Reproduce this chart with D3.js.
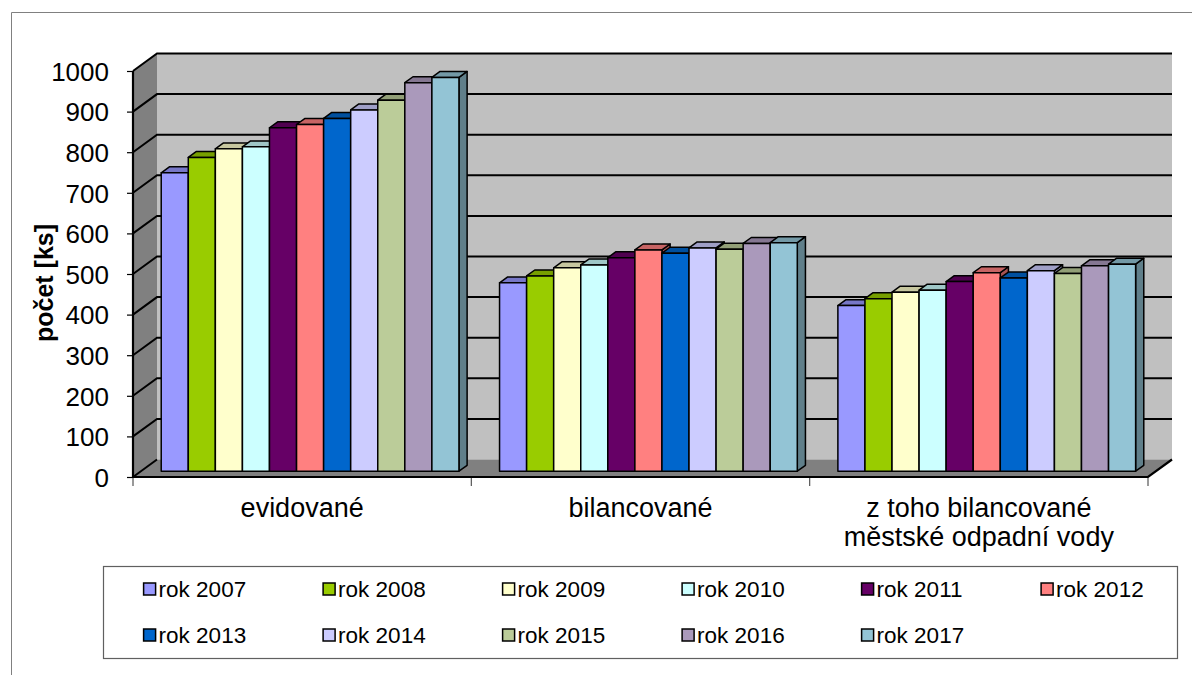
<!DOCTYPE html>
<html>
<head>
<meta charset="utf-8">
<script src="https://cdn.jsdelivr.net/npm/d3@7"></script>
<style>
  html, body { margin: 0; padding: 0; background: #fff; }
  svg text { font-family: "Liberation Sans", Arial, sans-serif; fill: #000; }
</style>
</head>
<body>
<svg id="chart" width="1192" height="675"></svg>
<script>
// Categories, series and axis ticks
const categories = ["evidované", "bilancované", "z toho bilancované\nměstské odpadní vody"];
const years = ["rok 2007", "rok 2008", "rok 2009", "rok 2010", "rok 2011", "rok 2012",
               "rok 2013", "rok 2014", "rok 2015", "rok 2016", "rok 2017"];
const colors = ["#9999FF", "#99CC00", "#FFFFCC", "#CCFFFF", "#660066", "#FF8080",
                "#0066CC", "#CCCCFF", "#BBCC99", "#AA99BB", "#93C4D5"];
const evidovane   = [735, 773, 794, 799, 846, 854, 869, 890, 914, 957, 970];
const bilancovane = [464, 481, 501, 508, 526, 545, 537, 550, 547, 561, 563];
const mestske     = [408, 425, 441, 446, 467, 489, 476, 494, 487, 506, 510];
const yTicks = [0, 100, 200, 300, 400, 500, 600, 700, 800, 900, 1000];
const yTitle = "počet [ks]";

const series = [evidovane, bilancovane, mestske];

const svg = d3.select("#chart");

// Plot geometry (front plane) and the oblique depth vector
const x0 = 133, x1 = 1148;
const D = [24, -17.5];
const barZ0 = 0.33, barZ1 = 0.67;   // bars sit in the middle of the depth

const y = d3.scaleLinear().domain([0, 1000]).range([477, 71]);
const xCat = d3.scaleBand().domain(d3.range(categories.length)).range([x0, x1]).paddingInner(0).paddingOuter(0);
const xYear = d3.scaleBand().domain(d3.range(years.length)).range([0, xCat.bandwidth()])
  .paddingInner(0).paddingOuter(0.75);

const P = (x, yy, z) => [x + z * D[0], yy + z * D[1]];
const poly = pts => pts.map(p => p.join(",")).join(" ");
const shade = (c, k) => { const r = d3.rgb(c); return d3.rgb(r.r * k, r.g * k, r.b * k).formatHex(); };

// Outer frame (top and left edges)
svg.append("path").attr("d", `M11.5,675 V12.5 H1192`).attr("fill", "none")
  .attr("stroke", "#808080").attr("stroke-width", 1);

const walls = svg.append("g");
// Back wall
const bl = P(x0, y(0), 1), tr = P(x1, y(1000), 1);
walls.append("rect").attr("x", bl[0]).attr("y", tr[1]).attr("width", tr[0] - bl[0])
  .attr("height", bl[1] - tr[1]).attr("fill", "#C0C0C0");
// Side wall
walls.append("polygon")
  .attr("points", poly([P(x0, y(0), 0), P(x0, y(1000), 0), P(x0, y(1000), 1), P(x0, y(0), 1)]))
  .attr("fill", "#808080");
// Floor
walls.append("polygon")
  .attr("points", poly([P(x0, y(0), 0), P(x1, y(0), 0), P(x1, y(0), 1), P(x0, y(0), 1)]))
  .attr("fill", "#808080");

// Gridlines on back wall and side wall
yTicks.forEach(v => {
  const a = P(x0, y(v), 0), b = P(x0, y(v), 1), c = P(x1, y(v), 1);
  walls.append("polyline").attr("points", poly(v === 0 ? [a, b] : [a, b, c]))
    .attr("fill", "none").attr("stroke", "#000").attr("stroke-width", 2);
});
// Front edges of floor and left axis
walls.append("polyline")
  .attr("points", poly([P(x0, y(1000), 0), P(x0, y(0), 0), P(x1, y(0), 0), P(x1, y(0), 1)]))
  .attr("fill", "none").attr("stroke", "#000").attr("stroke-width", 2.2);

// Bars
const bars = svg.append("g").attr("stroke", "#000").attr("stroke-width", 1.5).attr("stroke-linejoin", "round");
series.forEach((vals, ci) => {
  vals.forEach((v, yi) => {
    const xl = xCat(ci) + xYear(yi), xr = xl + xYear.bandwidth();
    const yt = y(v), yb = y(0);
    const c = colors[yi];
    // right side face
    bars.append("polygon")
      .attr("points", poly([P(xr, yt, barZ0), P(xr, yt, barZ1), P(xr, yb, barZ1), P(xr, yb, barZ0)]))
      .attr("fill", shade(c, 0.65));
    // top face
    bars.append("polygon")
      .attr("points", poly([P(xl, yt, barZ0), P(xl, yt, barZ1), P(xr, yt, barZ1), P(xr, yt, barZ0)]))
      .attr("fill", shade(c, 0.78));
    // front face
    const f0 = P(xl, yt, barZ0), f1 = P(xr, yb, barZ0);
    bars.append("rect").attr("x", f0[0]).attr("y", f0[1])
      .attr("width", f1[0] - f0[0]).attr("height", f1[1] - f0[1]).attr("fill", c);
  });
});

// Y axis ticks and labels
const yAxis = d3.axisLeft(y).tickValues(yTicks).tickSize(6).tickPadding(18).tickFormat(d3.format("d"));
const gy = svg.append("g").attr("transform", `translate(${x0},0)`).call(yAxis);
gy.select(".domain").remove();
gy.selectAll(".tick line").attr("stroke", "#000").attr("stroke-width", 1.2);
gy.selectAll(".tick text").attr("font-size", 26).attr("font-family", "Liberation Sans, Arial, sans-serif")
  .attr("fill", "#000").attr("dy", "0.36em");

// Y axis title
svg.append("text").attr("transform", "translate(53,283) rotate(-90)")
  .attr("text-anchor", "middle").attr("font-size", 25).attr("font-weight", "bold").text(yTitle);

// Category boundary ticks and labels
const gx = svg.append("g");
d3.range(categories.length + 1).forEach(i => {
  const xx = i < categories.length ? xCat(i) : x1;
  gx.append("line").attr("x1", xx).attr("x2", xx).attr("y1", 478).attr("y2", 486)
    .attr("stroke", "#555").attr("stroke-width", 1.2);
});
categories.forEach((c, i) => {
  const t = gx.append("text").attr("x", xCat(i) + xCat.bandwidth() / 2).attr("y", 517)
    .attr("text-anchor", "middle").attr("font-size", 27);
  c.split("\n").forEach((line, k) => {
    t.append("tspan").attr("x", xCat(i) + xCat.bandwidth() / 2).attr("dy", k === 0 ? 0 : 29).text(line);
  });
});

// Legend
const lg = svg.append("g");
lg.append("rect").attr("x", 103.5).attr("y", 566.5).attr("width", 1074).attr("height", 92)
  .attr("fill", "#fff").attr("stroke", "#606060").attr("stroke-width", 1.2);
const colX = d3.scaleLinear().domain([0, 1]).range([143.6, 323.1]);
years.forEach((yr, i) => {
  const col = i % 6, row = Math.floor(i / 6);
  const gx0 = colX(col), gy0 = 589 + row * 46;
  lg.append("rect").attr("x", gx0).attr("y", gy0 - 6).attr("width", 12).attr("height", 12)
    .attr("fill", colors[i]).attr("stroke", "#000").attr("stroke-width", 1.5);
  lg.append("text").attr("x", gx0 + 15).attr("y", gy0).attr("dy", "0.36em")
    .attr("font-size", 22.5).text(yr);
});
</script>
</body>
</html>
